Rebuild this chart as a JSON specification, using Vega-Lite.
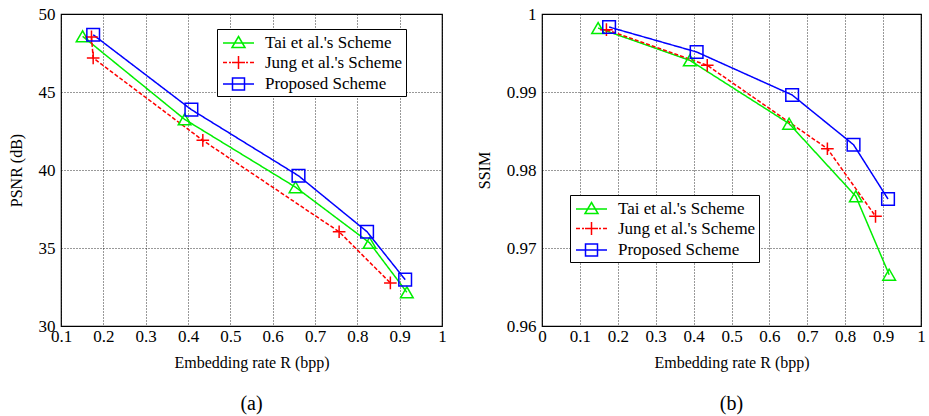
{
  "$schema": "https://vega.github.io/schema/vega-lite/v6.json",
  "background": "white",
  "padding": {"left": 7, "top": 4, "right": 2, "bottom": 2},
  "bounds": "flush",
  "spacing": 100,
  "config": {
    "font": "Liberation Serif",
    "style": {"guide-label": {"font": "Liberation Serif"}, "guide-title": {"font": "Liberation Serif"}},
    "view": {"stroke": "black", "strokeWidth": 1.2},
    "axis": {
      "labelFontSize": 17, "labelColor": "black",
      "titleFont": "Liberation Serif", "titleFontSize": 16, "titleFontWeight": "normal", "titleColor": "black",
      "domain": false, "ticks": false, "grid": true, "gridColor": "black", "gridDash": [1, 2], "gridOpacity": 0.8,
      "labelPadding": 6, "labelFlush": false, "labelOverlap": false
    },
    "axisX": {"labelPadding": 2, "titlePadding": 10},
    "legend": {
      "labelFont": "Liberation Serif", "labelFontSize": 17, "labelColor": "black",
      "strokeColor": "black", "fillColor": "white", "padding": 3, "rowPadding": 0.5, "labelOffset": 15.5, "symbolOffset": 7.5,
      "symbolSize": 400, "symbolStrokeWidth": 1.5, "symbolFillColor": "transparent", "symbolOpacity": 1, "orient": "none"
    },
    "title": {"font": "Liberation Serif", "fontSize": 20, "fontWeight": "normal", "color": "black"}
  },
  "datasets": {
    "psnr": [
      {"scheme": "Tai et al.'s Scheme", "rate": 0.151, "value": 48.57},
      {"scheme": "Tai et al.'s Scheme", "rate": 0.392, "value": 43.25},
      {"scheme": "Tai et al.'s Scheme", "rate": 0.654, "value": 38.9},
      {"scheme": "Tai et al.'s Scheme", "rate": 0.829, "value": 35.33},
      {"scheme": "Tai et al.'s Scheme", "rate": 0.917, "value": 32.16},
      {"scheme": "Jung et al.'s Scheme", "rate": 0.172, "value": 48.53},
      {"scheme": "Jung et al.'s Scheme", "rate": 0.176, "value": 47.18},
      {"scheme": "Jung et al.'s Scheme", "rate": 0.435, "value": 41.9},
      {"scheme": "Jung et al.'s Scheme", "rate": 0.757, "value": 36.04},
      {"scheme": "Jung et al.'s Scheme", "rate": 0.878, "value": 32.76},
      {"scheme": "Proposed Scheme", "rate": 0.176, "value": 48.67},
      {"scheme": "Proposed Scheme", "rate": 0.408, "value": 43.87},
      {"scheme": "Proposed Scheme", "rate": 0.661, "value": 39.63},
      {"scheme": "Proposed Scheme", "rate": 0.823, "value": 36.04},
      {"scheme": "Proposed Scheme", "rate": 0.913, "value": 32.97}
    ],
    "ssim": [
      {"scheme": "Tai et al.'s Scheme", "rate": 0.148, "value": 0.9982},
      {"scheme": "Tai et al.'s Scheme", "rate": 0.39, "value": 0.99406},
      {"scheme": "Tai et al.'s Scheme", "rate": 0.652, "value": 0.98594},
      {"scheme": "Tai et al.'s Scheme", "rate": 0.828, "value": 0.97663},
      {"scheme": "Tai et al.'s Scheme", "rate": 0.916, "value": 0.96658},
      {"scheme": "Jung et al.'s Scheme", "rate": 0.17, "value": 0.99799},
      {"scheme": "Jung et al.'s Scheme", "rate": 0.436, "value": 0.99342},
      {"scheme": "Jung et al.'s Scheme", "rate": 0.753, "value": 0.98273},
      {"scheme": "Jung et al.'s Scheme", "rate": 0.88, "value": 0.97406},
      {"scheme": "Proposed Scheme", "rate": 0.177, "value": 0.99833},
      {"scheme": "Proposed Scheme", "rate": 0.408, "value": 0.99513},
      {"scheme": "Proposed Scheme", "rate": 0.66, "value": 0.98962},
      {"scheme": "Proposed Scheme", "rate": 0.822, "value": 0.98324},
      {"scheme": "Proposed Scheme", "rate": 0.913, "value": 0.97628}
    ]
  },
  "resolve": {
    "scale": {"x": "independent", "y": "independent", "color": "independent", "shape": "independent", "strokeDash": "independent"},
    "legend": {"color": "independent", "shape": "independent"},
    "axis": {"x": "independent", "y": "independent"}
  },
  "hconcat": [
    {
      "width": 381, "height": 312,
      "data": {"name": "psnr"},
      "title": {"text": "(a)", "orient": "bottom", "offset": 24},
      "encoding": {
        "x": {"field": "rate", "type": "quantitative",
              "scale": {"domain": [0.1, 1], "nice": false, "zero": false},
              "axis": {"title": "Embedding rate R (bpp)", "labelFont": "Liberation Serif, serif", "values": [0.1, 0.2, 0.3, 0.4, 0.5, 0.6, 0.7, 0.8, 0.9, 1], "format": ".1~f"}},
        "y": {"field": "value", "type": "quantitative",
              "scale": {"domain": [30, 50], "nice": false, "zero": false},
              "axis": {"title": "PSNR (dB)", "labelFont": "Liberation Serif, serif", "values": [30, 35, 40, 45, 50], "format": "d", "titlePadding": 14}}
      },
      "resolve": {"scale": {"color": "independent", "shape": "independent", "strokeDash": "independent"}, "legend": {"color": "independent", "shape": "independent"}},
      "layer": [
        {
          "mark": {"type": "line", "strokeWidth": 1.5},
          "encoding": {
            "color": {"field": "scheme", "type": "nominal", "legend": null,
                      "scale": {"domain": ["Tai et al.'s Scheme", "Jung et al.'s Scheme", "Proposed Scheme"], "range": ["#00ee00", "#ff0000", "#0000ff"]}},
            "strokeDash": {"field": "scheme", "type": "nominal", "legend": null,
                           "scale": {"domain": ["Tai et al.'s Scheme", "Jung et al.'s Scheme", "Proposed Scheme"], "range": [[1, 0], [4, 2], [1, 0]]}}
          }
        },
        {
          "mark": {"type": "point", "filled": false, "strokeWidth": 1.5, "size": 160, "opacity": 1},
          "encoding": {
            "color": {"field": "scheme", "type": "nominal", "legend": null,
                      "scale": {"domain": ["Tai et al.'s Scheme", "Jung et al.'s Scheme", "Proposed Scheme"], "range": ["#00ee00", "#ff0000", "#0000ff"]}},
            "shape": {"field": "scheme", "type": "nominal", "legend": null,
                      "scale": {"domain": ["Tai et al.'s Scheme", "Jung et al.'s Scheme", "Proposed Scheme"], "range": ["triangle-up", "M-1,0H1M0,-1V1", "square"]}}
          }
        },
        {
          "transform": [{"filter": "false"}],
          "mark": {"type": "point", "filled": false, "strokeWidth": 1.5, "size": 400, "opacity": 1},
          "encoding": {
            "color": {"field": "scheme", "type": "nominal",
                      "scale": {"domain": ["Tai et al.'s Scheme", "Jung et al.'s Scheme", "Proposed Scheme"], "range": ["#00ee00", "#ff0000", "#0000ff"]},
                      "legend": {"title": null, "legendX": 156, "legendY": 15, "labelFont": "Liberation Serif"}},
            "shape": {"field": "scheme", "type": "nominal",
                      "scale": {"domain": ["Tai et al.'s Scheme", "Jung et al.'s Scheme", "Proposed Scheme"], "range": ["M-1.55,0H1.55M0,-0.65L0.65,0.45L-0.65,0.45Z", "M-1.55,0H-1.15M-0.95,0H-0.75M-0.65,0H0.65M0.75,0H0.95M1.15,0H1.55M0,-0.65V0.65", "M-1.55,0H1.55M-0.6,-0.6H0.6V0.6H-0.6Z"]},
                      "legend": {"title": null, "legendX": 156, "legendY": 15, "labelFont": "Liberation Serif"}}
          }
        }
      ]
    },
    {
      "width": 379, "height": 312,
      "data": {"name": "ssim"},
      "title": {"text": "(b)", "orient": "bottom", "offset": 24},
      "encoding": {
        "x": {"field": "rate", "type": "quantitative",
              "scale": {"domain": [0, 1], "nice": false, "zero": false},
              "axis": {"title": "Embedding rate R (bpp)", "labelFont": "Liberation Serif, serif", "values": [0, 0.1, 0.2, 0.3, 0.4, 0.5, 0.6, 0.7, 0.8, 0.9, 1], "format": ".1~f"}},
        "y": {"field": "value", "type": "quantitative",
              "scale": {"domain": [0.96, 1], "nice": false, "zero": false},
              "axis": {"title": "SSIM", "labelFont": "Liberation Serif, serif", "values": [0.96, 0.97, 0.98, 0.99, 1], "format": ".2~f", "titlePadding": 14}}
      },
      "resolve": {"scale": {"color": "independent", "shape": "independent", "strokeDash": "independent"}, "legend": {"color": "independent", "shape": "independent"}},
      "layer": [
        {
          "mark": {"type": "line", "strokeWidth": 1.5},
          "encoding": {
            "color": {"field": "scheme", "type": "nominal", "legend": null,
                      "scale": {"domain": ["Tai et al.'s Scheme", "Jung et al.'s Scheme", "Proposed Scheme"], "range": ["#00ee00", "#ff0000", "#0000ff"]}},
            "strokeDash": {"field": "scheme", "type": "nominal", "legend": null,
                           "scale": {"domain": ["Tai et al.'s Scheme", "Jung et al.'s Scheme", "Proposed Scheme"], "range": [[1, 0], [4, 2], [1, 0]]}}
          }
        },
        {
          "mark": {"type": "point", "filled": false, "strokeWidth": 1.5, "size": 160, "opacity": 1},
          "encoding": {
            "color": {"field": "scheme", "type": "nominal", "legend": null,
                      "scale": {"domain": ["Tai et al.'s Scheme", "Jung et al.'s Scheme", "Proposed Scheme"], "range": ["#00ee00", "#ff0000", "#0000ff"]}},
            "shape": {"field": "scheme", "type": "nominal", "legend": null,
                      "scale": {"domain": ["Tai et al.'s Scheme", "Jung et al.'s Scheme", "Proposed Scheme"], "range": ["triangle-up", "M-1,0H1M0,-1V1", "square"]}}
          }
        },
        {
          "transform": [{"filter": "false"}],
          "mark": {"type": "point", "filled": false, "strokeWidth": 1.5, "size": 400, "opacity": 1},
          "encoding": {
            "color": {"field": "scheme", "type": "nominal",
                      "scale": {"domain": ["Tai et al.'s Scheme", "Jung et al.'s Scheme", "Proposed Scheme"], "range": ["#00ee00", "#ff0000", "#0000ff"]},
                      "legend": {"title": null, "legendX": 28, "legendY": 181, "labelFont": "Liberation Serif"}},
            "shape": {"field": "scheme", "type": "nominal",
                      "scale": {"domain": ["Tai et al.'s Scheme", "Jung et al.'s Scheme", "Proposed Scheme"], "range": ["M-1.55,0H1.55M0,-0.65L0.65,0.45L-0.65,0.45Z", "M-1.55,0H-1.15M-0.95,0H-0.75M-0.65,0H0.65M0.75,0H0.95M1.15,0H1.55M0,-0.65V0.65", "M-1.55,0H1.55M-0.6,-0.6H0.6V0.6H-0.6Z"]},
                      "legend": {"title": null, "legendX": 28, "legendY": 181, "labelFont": "Liberation Serif"}}
          }
        }
      ]
    }
  ]
}
